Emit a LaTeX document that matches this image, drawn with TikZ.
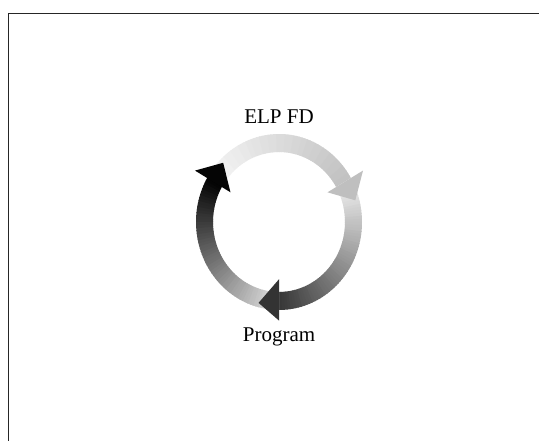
\documentclass[tikz,border=0pt]{standalone}
\usepackage{fontspec}
\setmainfont{Liberation Serif}
\tikzset{
  frameline/.style={line width=1.8pt, black!85},
  lbl/.style={anchor=base, inner sep=0pt, font=\fontsize{21}{25}\selectfont},
}
\newcommand\ringpiece[3]{%
  \fill[#3] (#1:83) arc[start angle=#1, end angle=#2, radius=83]
     -- (#2:66) arc[start angle=#2, end angle=#1, radius=66] -- cycle;}
\begin{document}
\begin{tikzpicture}[x=1pt,y=1pt]
\useasboundingbox (0,0) rectangle (539,441);
\fill[white] (0,0) rectangle (539,441);
\coordinate (fa) at (8.5,-5);
\coordinate (fb) at (8.5,427.5);
\coordinate (fc) at (545,427.5);
\draw[frameline] (fa) -- (fb) -- (fc);

\begin{scope}[shift={(279,219)}, yscale=1.06]
  % arrow 1 shaft (top): 150 -> 28
  \foreach \k in {0,...,60}{
    \pgfmathsetmacro\aa{150-2*\k}
    \pgfmathsetmacro\ab{\aa-2.6}
    \pgfmathtruncatemacro\g{4+21*\k/60}
    \ringpiece{\aa}{\ab}{black!\g}
  }
  % arrow 2 shaft (right): 30 -> -92
  \foreach \k in {0,...,60}{
    \pgfmathsetmacro\aa{30-2*\k}
    \pgfmathsetmacro\ab{\aa-2.6}
    \pgfmathtruncatemacro\g{6+74*\k/60}
    \ringpiece{\aa}{\ab}{black!\g}
  }
  % arrow 3 shaft (left): 270 -> 148
  \foreach \k in {0,...,60}{
    \pgfmathsetmacro\aa{270-2*\k}
    \pgfmathsetmacro\ab{\aa-2.6}
    \pgfmathtruncatemacro\g{12+88*\k/60}
    \ringpiece{\aa}{\ab}{black!\g}
  }
  % heads
  \fill[black!25] (30:56) -- (30:97) -- (15:79) -- cycle;
  \fill[black!80] (-90:54) -- (-90:93) -- (-105:79) -- cycle;
  \fill[black!98] (150:56) -- (150:97) -- (135:79) -- cycle;
\end{scope}

\node[lbl] (elp) at (279,317) {ELP FD};
\node[lbl] (prog) at (279,99) {Program};
\end{tikzpicture}
\end{document}
